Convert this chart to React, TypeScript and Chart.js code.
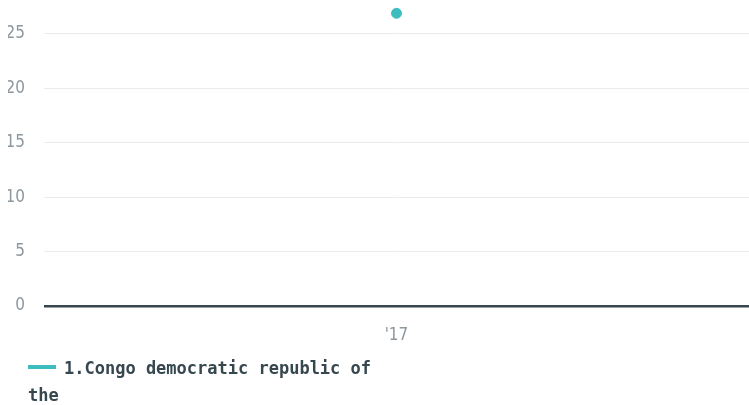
import React, { useEffect, useRef } from "react";
import { Chart, registerables } from "chart.js";

Chart.register(...registerables);

const categories = ["'17"];
const seriesName = "1.Congo democratic republic of the";
const seriesValues = [26.9];
const yTicks = [0, 5, 10, 15, 20, 25];
const yMax = 27.57;

const TEAL = "#3dbdbd";
const DARK = "#37474f";
const TICK_FONT = "'Liberation Sans Narrow', 'DejaVu Sans Condensed', Roboto, sans-serif";

export default function App() {
  const ref = useRef<HTMLCanvasElement | null>(null);
  useEffect(() => {
    if (!ref.current) return;
    const chart = new Chart(ref.current, {
      type: "line",
      data: {
        labels: categories,
        datasets: [
          {
            label: seriesName,
            data: seriesValues,
            borderColor: TEAL,
            backgroundColor: TEAL,
            pointRadius: 5,
            pointBorderWidth: 1,
            pointBorderColor: TEAL,
            pointBackgroundColor: TEAL,
            borderWidth: 3,
            clip: false,
          },
        ],
      },
      options: {
        animation: false,
        responsive: false,
        maintainAspectRatio: false,
        layout: { autoPadding: false, padding: { top: 6, left: 8, right: 0, bottom: 2 } },
        plugins: { legend: { display: false }, tooltip: { enabled: false } },
        scales: {
          x: {
            offset: true,
            grid: { display: false, drawTicks: false },
            border: { display: false },
            ticks: {
              color: "#8c979e",
              font: { family: TICK_FONT, size: 17 },
              padding: 19,
              maxRotation: 0,
            },
            afterFit: (axis: any) => {
              axis.height = 40;
            },
          },
          y: {
            min: 0,
            max: yMax,
            afterBuildTicks: (axis: any) => {
              axis.ticks = yTicks.map((v) => ({ value: v }));
              axis.min = 0;
              axis.max = yMax;
            },
            grid: {
              drawTicks: false,
              color: (ctx: any) => (ctx.tick && ctx.tick.value === 0 ? DARK : "#ebebeb"),
              lineWidth: (ctx: any) => (ctx.tick && ctx.tick.value === 0 ? 2.5 : 1),
            },
            border: { display: false },
            ticks: {
              color: "#8c979e",
              font: { family: TICK_FONT, size: 17 },
              padding: 19,
            },
            afterFit: (axis: any) => {
              axis.width = 36;
              axis.paddingTop = 0;
              axis.paddingBottom = 0;
            },
          },
        },
      },
    });
    return () => chart.destroy();
  }, []);

  return (
    <div style={{ position: "fixed", left: 0, top: 0, width: 749, height: 405, background: "#fff" }}>
      <canvas ref={ref} width={749} height={348} style={{ display: "block", width: 749, height: 348 }} />
      <div
        style={{
          position: "absolute",
          left: 28,
          top: 355,
          width: 360,
          fontFamily: "'DejaVu Sans Mono', 'Liberation Mono', monospace",
          fontWeight: "bold",
          fontSize: 17,
          lineHeight: "27px",
          color: DARK,
        }}
      >
        <span
          style={{
            display: "inline-block",
            width: 28,
            height: 4,
            background: TEAL,
            verticalAlign: "middle",
            marginRight: 8,
            position: "relative",
            top: -2,
          }}
        />
        {seriesName}
      </div>
    </div>
  );
}
